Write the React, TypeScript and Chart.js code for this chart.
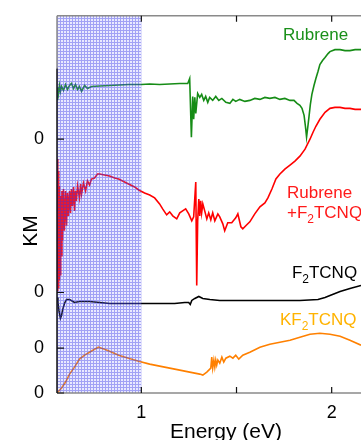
import React, { useEffect, useRef } from 'react';
import { Chart, registerables } from 'chart.js';
Chart.register(...registerables);

// ---- axes ----
const X_MIN = 0.557;
const X_MAX = 2.154;
const Y_MIN = 0;
const Y_MAX = 3.79;
const SHADE_END = 1.0; // shaded energy region ends at 1 eV
const X_TICKS = [1, 1.5, 2];
const X_TICK_LABELS = ['1', '', '2'];
const AXIS_SPLIT = 3.26; // left axis is dark below this value

// ---- series (stacked with offsets) ----
const SERIES_NAMES = ['Rubrene', 'Rubrene+F2TCNQ', 'F2TCNQ', 'KF2TCNQ'];
const OFFSETS = [2.55, 1.01, 0.45, 0];
const Y_TICK_LABELS = ['0', '0', '0', '0'];
const LINE_COLORS = ['#168c16', '#ff0000', '#000000', '#ff8000'];
const LABEL_COLORS = ['#1a901a', '#ff1a1a', '#000000', '#ffb300'];

const rubreneE = [0.557, 0.56, 0.565, 0.57, 0.575, 0.581, 0.591, 0.602, 0.612, 0.623, 0.633, 0.644, 0.654, 0.665, 0.675, 0.686, 0.702, 0.717, 0.738, 0.781, 0.833, 0.881, 0.933, 1.0, 1.044, 1.096, 1.149, 1.202, 1.244, 1.254, 1.263, 1.27, 1.275, 1.281, 1.286, 1.296, 1.307, 1.317, 1.328, 1.338, 1.349, 1.359, 1.375, 1.391, 1.407, 1.423, 1.444, 1.465, 1.481, 1.496, 1.517, 1.544, 1.57, 1.596, 1.623, 1.649, 1.675, 1.702, 1.728, 1.754, 1.781, 1.802, 1.818, 1.833, 1.844, 1.855, 1.862, 1.868, 1.875, 1.881, 1.888, 1.896, 1.907, 1.917, 1.928, 1.938, 1.952, 1.965, 1.981, 1.991, 2.017, 2.044, 2.07, 2.096, 2.123, 2.154];
const rubreneKM = [0.4, 0.52, 0.46, 0.54, 0.48, 0.53, 0.49, 0.55, 0.5, 0.54, 0.56, 0.51, 0.55, 0.5, 0.53, 0.48, 0.54, 0.51, 0.53, 0.535, 0.54, 0.545, 0.55, 0.55, 0.555, 0.55, 0.555, 0.56, 0.56, 0.61, 0.02, 0.43, 0.2, 0.42, 0.26, 0.46, 0.42, 0.45, 0.39, 0.43, 0.37, 0.42, 0.39, 0.43, 0.39, 0.41, 0.37, 0.36, 0.4, 0.38, 0.4, 0.38, 0.39, 0.41, 0.4, 0.42, 0.41, 0.42, 0.4, 0.41, 0.39, 0.39, 0.36, 0.34, 0.31, 0.24, 0.13, 0.02, 0.13, 0.23, 0.35, 0.45, 0.54, 0.61, 0.68, 0.75, 0.79, 0.82, 0.86, 0.88, 0.9, 0.9, 0.89, 0.89, 0.9, 0.9];

const rubF2E = [0.557, 0.56, 0.562, 0.564, 0.566, 0.568, 0.57, 0.573, 0.575, 0.578, 0.581, 0.583, 0.586, 0.591, 0.596, 0.602, 0.607, 0.612, 0.617, 0.623, 0.628, 0.633, 0.638, 0.644, 0.649, 0.654, 0.659, 0.665, 0.675, 0.681, 0.686, 0.696, 0.707, 0.717, 0.728, 0.738, 0.754, 0.77, 0.781, 0.807, 0.833, 0.86, 0.881, 0.912, 0.933, 0.965, 0.986, 1.017, 1.044, 1.07, 1.096, 1.112, 1.133, 1.149, 1.165, 1.186, 1.202, 1.217, 1.233, 1.249, 1.265, 1.275, 1.286, 1.291, 1.296, 1.302, 1.307, 1.312, 1.317, 1.323, 1.333, 1.344, 1.354, 1.365, 1.375, 1.386, 1.402, 1.412, 1.428, 1.438, 1.454, 1.475, 1.496, 1.507, 1.523, 1.533, 1.554, 1.57, 1.596, 1.623, 1.649, 1.665, 1.686, 1.707, 1.728, 1.754, 1.781, 1.807, 1.833, 1.86, 1.886, 1.902, 1.917, 1.938, 1.965, 1.991, 2.017, 2.044, 2.07, 2.096, 2.123, 2.154];
const rubF2KM = [0.02, 1.34, 0.07, 1.22, 0.04, 1.07, 0.12, 0.92, 0.17, 0.97, 0.37, 1.02, 0.52, 1.04, 0.62, 1.02, 0.67, 1.0, 0.77, 1.02, 0.8, 1.04, 0.87, 1.06, 0.82, 1.02, 0.92, 1.07, 0.95, 1.09, 0.99, 1.1, 1.02, 1.12, 1.08, 1.14, 1.15, 1.19, 1.19, 1.18, 1.17, 1.15, 1.14, 1.11, 1.09, 1.06, 1.03, 1.0, 0.98, 0.95, 0.89, 0.84, 0.78, 0.81, 0.77, 0.74, 0.8, 0.82, 0.84, 0.79, 0.72, 0.76, 1.11, 0.07, 0.72, 0.94, 0.77, 0.92, 0.8, 0.89, 0.82, 0.74, 0.8, 0.73, 0.8, 0.72, 0.79, 0.76, 0.69, 0.62, 0.7, 0.7, 0.75, 0.79, 0.66, 0.64, 0.68, 0.71, 0.79, 0.86, 0.9, 0.95, 1.04, 1.14, 1.19, 1.24, 1.28, 1.32, 1.37, 1.44, 1.54, 1.61, 1.67, 1.74, 1.81, 1.85, 1.86, 1.86, 1.85, 1.85, 1.84, 1.84];

const f2E = [0.557, 0.562, 0.567, 0.575, 0.581, 0.586, 0.596, 0.607, 0.623, 0.649, 0.675, 0.728, 0.781, 0.833, 0.912, 1.0, 1.096, 1.175, 1.228, 1.249, 1.257, 1.265, 1.281, 1.302, 1.323, 1.36, 1.412, 1.517, 1.623, 1.728, 1.833, 1.928, 1.965, 1.991, 2.044, 2.096, 2.154];
const f2KM = [0.51, 0.46, 0.38, 0.3, 0.33, 0.38, 0.45, 0.49, 0.49, 0.46, 0.47, 0.47, 0.46, 0.45, 0.45, 0.45, 0.45, 0.45, 0.46, 0.46, 0.44, 0.48, 0.5, 0.52, 0.5, 0.49, 0.48, 0.48, 0.48, 0.48, 0.48, 0.49, 0.51, 0.53, 0.57, 0.6, 0.63];

const kf2E = [0.557, 0.581, 0.602, 0.623, 0.649, 0.675, 0.702, 0.728, 0.754, 0.775, 0.791, 0.807, 0.833, 0.881, 0.933, 0.986, 1.044, 1.096, 1.149, 1.202, 1.254, 1.307, 1.323, 1.344, 1.365, 1.37, 1.375, 1.381, 1.386, 1.391, 1.396, 1.402, 1.412, 1.423, 1.433, 1.444, 1.465, 1.481, 1.496, 1.512, 1.533, 1.57, 1.623, 1.675, 1.728, 1.781, 1.833, 1.886, 1.938, 1.991, 2.044, 2.096, 2.154];
const kf2KM = [0.0, 0.05, 0.11, 0.19, 0.26, 0.34, 0.38, 0.41, 0.44, 0.46, 0.45, 0.44, 0.42, 0.38, 0.35, 0.32, 0.29, 0.27, 0.25, 0.23, 0.21, 0.19, 0.18, 0.21, 0.25, 0.36, 0.25, 0.33, 0.26, 0.33, 0.28, 0.33, 0.3, 0.36, 0.31, 0.35, 0.37, 0.35, 0.38, 0.34, 0.38, 0.41, 0.46, 0.49, 0.51, 0.53, 0.56, 0.59, 0.6, 0.59, 0.57, 0.53, 0.48];

const SERIES_E = [rubreneE, rubF2E, f2E, kf2E];
const SERIES_KM = [rubreneKM, rubF2KM, f2KM, kf2KM];

// label anchors in data coordinates [energy, y]; parts: [text, isSubscript]
const LABELS: { x: number; y: number; color: number; parts: [string, boolean][] }[] = [
  { x: 1.744, y: 3.55, color: 0, parts: [['Rubrene', false]] },
  { x: 1.765, y: 1.96, color: 1, parts: [['Rubrene', false]] },
  { x: 1.765, y: 1.76, color: 1, parts: [['+F', false], ['2', true], ['TCNQ', false]] },
  { x: 1.791, y: 1.16, color: 2, parts: [['F', false], ['2', true], ['TCNQ', false]] },
  { x: 1.728, y: 0.68, color: 3, parts: [['KF', false], ['2', true], ['TCNQ', false]] },
];
const X_TITLE = 'Energy (eV)';
const Y_TITLE = 'KM';
const FONT = '"Liberation Sans", Arial, sans-serif';

function makePattern(ctx: CanvasRenderingContext2D) {
  const c = document.createElement('canvas');
  c.width = 3;
  c.height = 3;
  const p = c.getContext('2d')!;
  p.fillStyle = 'rgba(140,140,255,0.18)';
  p.fillRect(1, 1, 2, 2);
  p.fillStyle = 'rgba(70,70,235,0.5)';
  p.fillRect(0, 0, 3, 1);
  p.fillRect(0, 1, 1, 2);
  return ctx.createPattern(c, 'repeat');
}

const decorPlugin = {
  id: 'decor',
  afterDatasetsDraw(chart: any) {
    const { ctx, chartArea: a, scales } = chart;
    const xs = scales.x;
    // shaded region (drawn over lines, semi-transparent)
    const pat = makePattern(ctx);
    if (pat) {
      ctx.save();
      ctx.fillStyle = pat;
      const xe = xs.getPixelForValue(SHADE_END);
      ctx.fillRect(a.left, a.top, xe - a.left, a.bottom - a.top);
      ctx.restore();
    }
  },
  afterDraw(chart: any) {
    const { ctx, chartArea: a, scales } = chart;
    const xs = scales.x, ys = scales.y;
    ctx.save();
    // frame
    ctx.lineWidth = 1.5;
    ctx.strokeStyle = '#8a8a8a';
    ctx.beginPath();
    ctx.moveTo(a.left, a.top);
    ctx.lineTo(a.right, a.top);
    ctx.moveTo(a.left, a.bottom);
    ctx.lineTo(a.right, a.bottom);
    ctx.moveTo(a.left, a.top);
    ctx.lineTo(a.left, ys.getPixelForValue(AXIS_SPLIT));
    ctx.stroke();
    ctx.strokeStyle = '#111';
    ctx.beginPath();
    ctx.moveTo(a.left, ys.getPixelForValue(AXIS_SPLIT));
    ctx.lineTo(a.left, a.bottom);
    ctx.stroke();
    // ticks
    ctx.lineWidth = 1.2;
    ctx.strokeStyle = '#111';
    ctx.beginPath();
    X_TICKS.forEach((v) => {
      const px = xs.getPixelForValue(v);
      ctx.moveTo(px, a.bottom);
      ctx.lineTo(px, a.bottom - 6);
      ctx.moveTo(px, a.top);
      ctx.lineTo(px, a.top + 6);
    });
    OFFSETS.forEach((v) => {
      const py = ys.getPixelForValue(v);
      ctx.moveTo(a.left, py);
      ctx.lineTo(a.left + 7, py);
    });
    ctx.stroke();
    // series labels
    ctx.textBaseline = 'alphabetic';
    ctx.textAlign = 'left';
    LABELS.forEach((l) => {
      let px = xs.getPixelForValue(l.x);
      const py = ys.getPixelForValue(l.y);
      ctx.fillStyle = LABEL_COLORS[l.color];
      l.parts.forEach(([t, sub]) => {
        ctx.font = (sub ? '12px ' : '17px ') + FONT;
        ctx.fillText(t, px, py + (sub ? 5 : 0));
        px += ctx.measureText(t).width;
      });
    });
    // axis titles
    ctx.fillStyle = '#000';
    ctx.font = '21px ' + FONT;
    ctx.textAlign = 'center';
    ctx.fillText(X_TITLE, 226, 438);
    ctx.translate(37, 231);
    ctx.rotate(-Math.PI / 2);
    ctx.fillText(Y_TITLE, 0, 0);
    ctx.restore();
  },
};

export default function App() {
  const ref = useRef<HTMLCanvasElement>(null);
  useEffect(() => {
    document.body.style.margin = '0';
    const datasets = SERIES_NAMES.map((name, i) => ({
      label: name,
      data: SERIES_E[i].map((e, j) => ({ x: e, y: SERIES_KM[i][j] + OFFSETS[i] })),
      borderColor: LINE_COLORS[i],
      borderWidth: 1.6,
      pointRadius: 0,
      tension: 0,
      fill: false,
    }));
    const chart = new Chart(ref.current!, {
      type: 'line',
      data: { datasets },
      options: {
        animation: false,
        responsive: false,
        events: [],
        layout: { padding: { top: 14, left: 0, right: 0, bottom: 0 } },
        plugins: { legend: { display: false }, tooltip: { enabled: false } },
        scales: {
          x: {
            type: 'linear',
            min: X_MIN,
            max: X_MAX,
            grid: { display: false },
            border: { display: false },
            afterBuildTicks: (s: any) => { s.ticks = X_TICKS.map((v) => ({ value: v })); },
            afterFit: (s: any) => { s.height = 47; },
            ticks: {
              autoSkip: false,
              maxRotation: 0,
              padding: 1,
              color: '#000',
              font: { size: 18, family: FONT },
              callback: (_v: any, i: number) => X_TICK_LABELS[i],
            },
          },
          y: {
            type: 'linear',
            min: Y_MIN,
            max: Y_MAX,
            grid: { display: false },
            border: { display: false },
            afterBuildTicks: (s: any) => { s.ticks = OFFSETS.map((v) => ({ value: v })); },
            afterFit: (s: any) => { s.width = 57; },
            ticks: {
              autoSkip: false,
              padding: 5,
              color: '#000',
              font: { size: 18, family: FONT },
              callback: (_v: any, i: number) => Y_TICK_LABELS[i],
            },
          },
        },
      },
      plugins: [decorPlugin],
    });
    return () => chart.destroy();
  }, []);
  return (
    <div style={{ position: 'fixed', left: 0, top: 0, width: 361, height: 440, background: '#fff' }}>
      <canvas ref={ref} width={361} height={440} />
    </div>
  );
}
